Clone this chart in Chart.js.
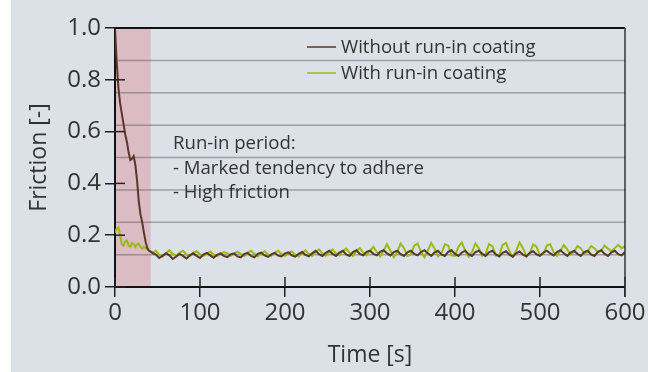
<!DOCTYPE html>
<html>
<head>
<meta charset="utf-8">
<script src="https://cdn.jsdelivr.net/npm/chart.js@4/dist/chart.umd.min.js"></script>
<style>
  html, body { margin: 0; padding: 0; background: #ffffff; }
  #wrap { width: 648px; height: 372px; }
  canvas { display: block; background: linear-gradient(to right, #ffffff 0px, #ffffff 11px, #dce1e7 11px, #dce1e7 100%); }
</style>
</head>
<body>
<div id="wrap"><canvas id="c" width="648" height="372"></canvas></div>
<script>
// ---- data ----
const seriesNames = ["Without run-in coating", "With run-in coating"];
const runInTimes = [0,2,4,6,8,10,12,14,16,18,20,22,24,26,28,30,32,34,36,38,40,42];
const withoutRunIn = [1.0,0.87,0.77,0.71,0.67,0.63,0.59,0.56,0.52,0.49,0.495,0.505,0.47,0.41,0.33,0.28,0.25,0.21,0.175,0.15,0.14,0.137];
const withRunIn = [0.21,0.226,0.23,0.20,0.165,0.16,0.175,0.18,0.16,0.155,0.17,0.165,0.155,0.165,0.168,0.155,0.148,0.155,0.15,0.145,0.14,0.136];
// steady phase sampled every 4 s from 44 s to 600 s
const steadyStart = 44, steadyStep = 4;
const withoutSteady = [
  0.132,0.125,0.112,0.12,0.13,0.122,0.108,0.118,0.128,0.12,0.11,0.122,0.13,
  0.12,0.112,0.125,0.132,0.122,0.113,0.124,0.13,0.12,0.115,0.126,0.13,0.118,
  0.114,0.127,0.132,0.12,0.115,0.128,0.133,0.122,0.116,0.126,0.132,0.121,0.118,
  0.13,0.134,0.122,0.117,0.128,0.135,0.124,0.118,0.13,0.14,0.127,0.12,0.132,
  0.14,0.128,0.12,0.133,0.14,0.126,0.12,0.135,0.142,0.128,0.122,0.136,0.14,
  0.128,0.122,0.136,0.142,0.13,0.122,0.135,0.14,0.127,0.12,0.134,0.14,0.128,
  0.122,0.135,0.142,0.13,0.12,0.134,0.14,0.126,0.12,0.136,0.142,0.128,0.12,
  0.133,0.14,0.127,0.12,0.135,0.14,0.128,0.12,0.134,0.14,0.126,0.118,0.132,
  0.138,0.125,0.117,0.13,0.137,0.125,0.118,0.132,0.138,0.126,0.12,0.133,0.14,
  0.13,0.122,0.135,0.142,0.13,0.12,0.133,0.14,0.128,0.12,0.135,0.14,0.126,
  0.12,0.135,0.142,0.128,0.12,0.134,0.14,0.127,0.122,0.135
];
const withSteady = [
  0.132,
  0.14,0.125,0.118,0.13,0.142,0.128,0.12,0.133,0.14,0.126,0.12,0.132,0.138,
  0.127,0.12,0.13,0.137,0.125,0.119,0.128,0.135,0.13,0.12,0.127,0.136,0.128,
  0.12,0.132,0.14,0.128,0.118,0.13,0.138,0.126,0.12,0.133,0.14,0.127,0.12,
  0.13,0.138,0.124,0.118,0.132,0.142,0.128,0.12,0.135,0.145,0.13,0.12,0.135,
  0.145,0.13,0.122,0.138,0.148,0.132,0.12,0.14,0.15,0.133,0.122,0.14,
  0.155,0.135,0.118,0.14,0.165,0.14,0.115,0.135,0.168,0.15,0.12,0.125,0.16,
  0.168,0.135,0.115,0.14,0.17,0.148,0.118,0.13,0.165,0.16,0.122,0.12,0.155,
  0.172,0.14,0.117,0.135,0.168,0.15,0.12,0.128,0.165,0.158,0.122,0.125,0.162,
  0.17,0.138,0.118,0.14,0.172,0.15,0.12,0.13,0.165,0.155,0.122,0.128,0.16,
  0.165,0.135,0.12,0.14,0.162,0.145,0.125,0.135,0.158,0.15,0.13,0.135,0.158,
  0.15,0.135,0.14,0.16,0.148,0.138,0.15,0.163,0.15,0.158
];
const xTicks = [0,100,200,300,400,500,600];
const yTicks = [0.0,0.2,0.4,0.6,0.8,1.0];
const gridValues = [0.125,0.25,0.375,0.5,0.625,0.75,0.875];
const runInPeriod = [0, 42];
const noteLines = ["Run-in period:", "- Marked tendency to adhere", "- High friction"];
const xTitle = "Time [s]";
const yTitle = "Friction [-]";
const colors = ["#5a3826", "#9aba12"];

// ---- build points ----
function buildPoints(early, steady) {
  const pts = early.map((v, i) => ({x: runInTimes[i], y: v}));
  steady.forEach((v, i) => pts.push({x: steadyStart + i * steadyStep, y: v}));
  return pts;
}

const FONT = "'Open Sans', 'DejaVu Sans', sans-serif";
const TEXT = "#333333";

const decor = {
  id: 'decor',
  beforeDraw(chart) {
    const {ctx, chartArea: a, scales: {x, y}} = chart;
    ctx.save();
    // run-in band
    ctx.fillStyle = "#dbbcc5";
    const x0 = x.getPixelForValue(runInPeriod[0]);
    const x1 = x.getPixelForValue(runInPeriod[1]);
    ctx.fillRect(x0, a.top, x1 - x0, a.bottom - a.top);
    // grid lines
    ctx.strokeStyle = "rgba(70,72,80,0.42)";
    ctx.lineWidth = 1.5;
    gridValues.forEach(v => {
      const py = y.getPixelForValue(v);
      ctx.beginPath(); ctx.moveTo(a.left, py); ctx.lineTo(a.right, py); ctx.stroke();
    });
    ctx.restore();
  },
  afterDraw(chart) {
    const {ctx, chartArea: a, scales: {x, y}} = chart;
    ctx.save();
    // inward halves of tick marks
    ctx.strokeStyle = "#222";
    ctx.lineWidth = 1.5;
    yTicks.forEach(v => {
      const py = y.getPixelForValue(v);
      ctx.beginPath(); ctx.moveTo(a.left, py); ctx.lineTo(a.left + 10, py); ctx.stroke();
    });
    xTicks.forEach(v => {
      const px = x.getPixelForValue(v);
      ctx.beginPath(); ctx.moveTo(px, a.bottom); ctx.lineTo(px, a.bottom - 10); ctx.stroke();
    });
    // frame top and right
    ctx.strokeStyle = "#111";
    ctx.lineWidth = 2;
    ctx.beginPath(); ctx.moveTo(a.left, a.top); ctx.lineTo(a.right, a.top); ctx.stroke();
    ctx.strokeStyle = "#333";
    ctx.lineWidth = 1.5;
    ctx.beginPath(); ctx.moveTo(a.right, a.top); ctx.lineTo(a.right, a.bottom + 10); ctx.stroke();
    // legend
    ctx.font = "18.6px " + FONT;
    ctx.textBaseline = "middle";
    ctx.fillStyle = TEXT;
    chart.data.datasets.forEach((ds, i) => {
      const ly = a.top + 19 + i * 26;
      ctx.strokeStyle = ds.borderColor;
      ctx.lineWidth = 1.5;
      ctx.beginPath(); ctx.moveTo(a.left + 192, ly); ctx.lineTo(a.left + 221, ly); ctx.stroke();
      ctx.fillText(ds.label, a.left + 226, ly + 1);
    });
    // annotation
    noteLines.forEach((t, i) => {
      ctx.fillText(t, a.left + 58, a.top + 116 + i * 24.5);
    });
    ctx.restore();
  }
};

new Chart(document.getElementById('c'), {
  type: 'line',
  data: {
    datasets: [
      { label: seriesNames[0], data: buildPoints(withoutRunIn, withoutSteady), borderColor: colors[0], borderWidth: 2, pointRadius: 0, tension: 0, fill: false },
      { label: seriesNames[1], data: buildPoints(withRunIn, withSteady), borderColor: colors[1], borderWidth: 2, pointRadius: 0, tension: 0, fill: false }
    ]
  },
  options: {
    responsive: false,
    animation: false,
    devicePixelRatio: 1,
    layout: { padding: { top: 28, right: 23, left: 0, bottom: 0 } },
    plugins: { legend: { display: false }, tooltip: { enabled: false } },
    scales: {
      x: {
        type: 'linear', min: 0, max: 600,
        afterBuildTicks: s => { s.ticks = xTicks.map(v => ({value: v})); },
        ticks: { font: { family: FONT, size: 24 }, color: TEXT, padding: 2, maxRotation: 0 },
        grid: { display: true, drawOnChartArea: false, drawTicks: true, tickLength: 10, color: "#222", lineWidth: 1.5 },
        border: { display: true, color: "#111", width: 2 },
        title: { display: true, text: xTitle, font: { family: FONT, size: 23 }, color: TEXT, padding: { top: 0, bottom: 3 } },
        afterFit: s => { s.height = 85; }
      },
      y: {
        type: 'linear', min: 0, max: 1,
        afterBuildTicks: s => { s.ticks = yTicks.map(v => ({value: v})); },
        ticks: { font: { family: FONT, size: 24 }, color: TEXT, padding: 4, callback: v => Number(v).toFixed(1) },
        grid: { display: true, drawOnChartArea: false, drawTicks: true, tickLength: 10, color: "#222", lineWidth: 1.5 },
        border: { display: true, color: "#111", width: 2 },
        title: { display: true, text: yTitle, font: { family: FONT, size: 23 }, color: TEXT, padding: { top: 26, bottom: 0 } },
        afterFit: s => { s.width = 115; }
      }
    }
  },
  plugins: [decor]
});
</script>
</body>
</html>
